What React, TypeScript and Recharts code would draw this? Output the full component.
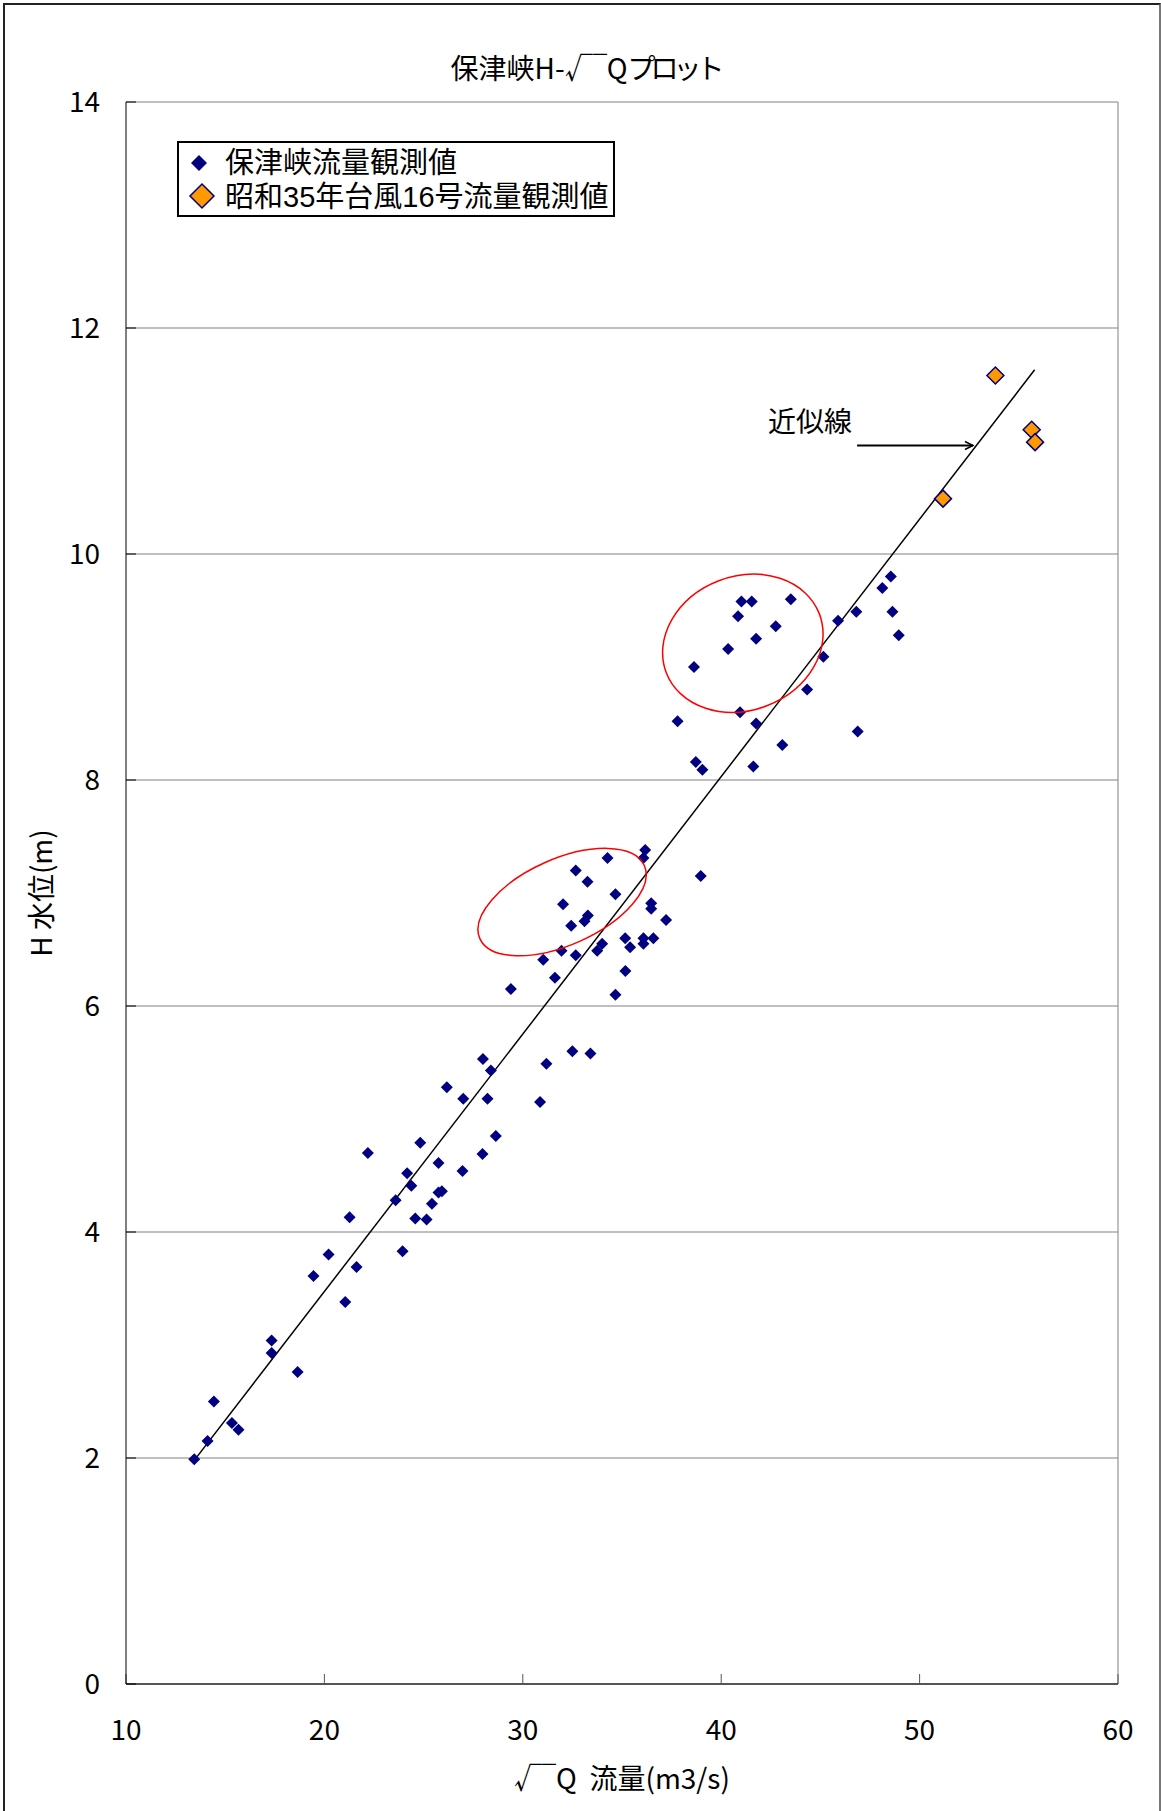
import React from 'react';
import {
  ScatterChart, Scatter, XAxis, YAxis, CartesianGrid, Legend, ReferenceLine, ReferenceDot, Label,
} from 'recharts';

const FONT = "'Noto Sans CJK JP', 'Noto Sans', sans-serif";
const LEGEND_FONT = "'Liberation Sans', 'Noto Sans CJK JP', sans-serif";

const seriesNames = ['保津峡流量観測値', '昭和35年台風16号流量観測値'];

// 保津峡 observed: √Q and H (m)
const hozuSqrtQ = [
  13.44, 14.11, 14.43, 15.34, 15.67, 17.34, 17.34, 18.65, 19.45, 20.21,
  21.05, 21.27, 21.62, 22.19, 23.59, 23.94, 24.17, 24.38, 24.58, 24.83,
  25.15, 25.42, 25.75, 25.75, 25.92, 26.17, 26.96, 27.0, 27.97, 27.99,
  28.22, 28.39, 28.64, 29.4, 30.87, 31.03, 31.19, 31.62, 31.95, 32.03,
  32.44, 32.5, 32.67, 32.67, 33.11, 33.26, 33.28, 33.41, 33.75, 34.0,
  34.27, 34.67, 34.67, 35.16, 35.17, 35.41, 36.08, 36.08, 36.17, 36.08,
  36.47, 36.47, 36.58, 37.22, 37.8, 38.63, 38.72, 39.05, 38.97, 40.35,
  40.85, 41.02, 41.54, 40.95, 41.62, 41.76, 41.76, 42.75, 43.08, 43.51,
  44.33, 45.15, 45.89, 46.81, 46.88, 48.12, 48.55, 48.63, 48.95,
];
const hozuLevel = [
  1.99, 2.15, 2.5, 2.31, 2.25, 3.04, 2.93, 2.76, 3.61, 3.8,
  3.38, 4.13, 3.69, 4.7, 4.28, 3.83, 4.52, 4.41, 4.12, 4.79,
  4.11, 4.25, 4.61, 4.35, 4.36, 5.28, 4.54, 5.18, 4.69, 5.53,
  5.18, 5.43, 4.85, 6.15, 5.15, 6.41, 5.49, 6.25, 6.49, 6.9,
  6.71, 5.6, 6.45, 7.2, 6.75, 7.1, 6.8, 5.58, 6.49, 6.55,
  7.31, 6.99, 6.1, 6.6, 6.31, 6.52, 6.6, 6.55, 7.38, 7.31,
  6.91, 6.86, 6.6, 6.76, 8.52, 9.0, 8.16, 8.09, 7.15, 9.16,
  9.45, 9.58, 9.58, 8.6, 8.12, 9.25, 8.5, 9.36, 8.31, 9.6,
  8.8, 9.09, 9.41, 9.49, 8.43, 9.7, 9.8, 9.49, 9.28,
];

// 昭和35年台風16号
const typhoonSqrtQ = [51.18, 53.82, 55.65, 55.82];
const typhoonLevel = [10.49, 11.58, 11.1, 10.99];

const xTicks = [10, 20, 30, 40, 50, 60];
const yTicks = [0, 2, 4, 6, 8, 10, 12, 14];

// approximation line end points
const fitLine = [{ x: 13.4, y: 1.97 }, { x: 55.8, y: 11.63 }];
// arrow pointing at the line, and its label
const arrowLine = [{ x: 46.85, y: 10.96 }, { x: 52.69, y: 10.96 }];
const fitLabel = { x: 44.48, y: 11.19 };
// centers of the red circled groups
const circleCenters = [{ x: 31.98, y: 6.92 }, { x: 41.09, y: 9.21 }];
const circleShapes = [
  { rx: 90, ry: 43, angle: -24 },
  { rx: 82, ry: 67, angle: -21 },
];

const hozuData = hozuSqrtQ.map((x, i) => ({ x, y: hozuLevel[i] }));
const typhoonData = typhoonSqrtQ.map((x, i) => ({ x, y: typhoonLevel[i] }));

const diamond = (cx: number, cy: number, r: number) =>
  `${cx},${cy - r} ${cx + r},${cy} ${cx},${cy + r} ${cx - r},${cy}`;

const NavyDiamond = (p: any) => <polygon points={diamond(p.cx, p.cy, 6)} fill="#000080" />;
const OrangeDiamond = (p: any) => (
  <polygon points={diamond(p.cx, p.cy, 8.5)} fill="#FF9900" stroke="#000080" strokeWidth={1.5} />
);

// √ followed by a short overbar
const Radical = () => (
  <>
    √<span style={{ display: 'inline-block', transform: 'scaleX(0.5)', transformOrigin: 'left center', marginRight: -14 }}>￣</span>
  </>
);

function LegendBox({ payload }: any) {
  const names = payload && payload.length === 2 ? payload.map((e: any) => e.value) : seriesNames;
  const row = { position: 'absolute' as const, left: 46, height: 34, lineHeight: '34px', whiteSpace: 'nowrap' as const };
  return (
    <div style={{
      position: 'relative', width: 438, height: 76, border: '2px solid #000', boxSizing: 'border-box',
      background: '#fff', fontFamily: LEGEND_FONT, fontSize: 29, color: '#000',
    }}>
      <svg width={60} height={72} style={{ position: 'absolute', left: 0, top: 0 }}>
        <polygon points={diamond(20, 20, 8)} fill="#000080" />
        <polygon points={diamond(23, 53, 12)} fill="#FF9900" stroke="#000080" strokeWidth={1.5} />
      </svg>
      <div style={{ ...row, top: 3 }}>{names[0]}</div>
      <div style={{ ...row, top: 37 }}>{names[1]}</div>
    </div>
  );
}

const YTitle = (props: any) => {
  const vb = props.viewBox || {};
  const cx = vb.x + 40;
  const cy = vb.y + vb.height / 2;
  return (
    <text x={cx} y={cy} transform={`rotate(-90 ${cx} ${cy})`} textAnchor="middle" dominantBaseline="central"
      fontSize={28} fontFamily={FONT} fill="#000">
      H 水位(m)
    </text>
  );
};

const ArrowShape = (p: any) => (
  <g>
    <line x1={p.x1} y1={p.y1} x2={p.x2} y2={p.y2} stroke="#000" strokeWidth={2} />
    <path d={`M${p.x2 - 8},${p.y2 - 4} L${p.x2},${p.y2} L${p.x2 - 8},${p.y2 + 4}`} fill="none" stroke="#000" strokeWidth={1.5} />
  </g>
);

const FitText = (p: any) => (
  <text x={p.cx} y={p.cy} textAnchor="middle" dominantBaseline="central" fontSize={28} fontFamily={FONT} fill="#000">
    近似線
  </text>
);

const makeEllipse = (i: number) => (p: any) => {
  const s = circleShapes[i];
  return (
    <ellipse cx={p.cx} cy={p.cy} rx={s.rx} ry={s.ry} transform={`rotate(${s.angle} ${p.cx} ${p.cy})`}
      fill="none" stroke="#FF0000" strokeWidth={1.5} />
  );
};

const tickStyle = { fontSize: 28, fill: '#000', fontFamily: FONT };

export default function App() {
  return (
    <div style={{ position: 'absolute', left: 0, top: 0, width: 1161, height: 1811, background: '#fff', fontFamily: FONT }}>
      <div style={{
        position: 'absolute', left: 3, top: 3, width: 1158, height: 1808, boxSizing: 'border-box',
        borderTop: '2px solid #222', borderLeft: '2px solid #222', borderRight: '2px solid #777',
      }} />
      <div style={{
        position: 'absolute', left: 0, top: 50, width: 1170, textAlign: 'center',
        fontSize: 28, lineHeight: '34px', color: '#000', zIndex: 2,
      }}>
        保津峡H-<Radical />Q<span style={{ letterSpacing: -5 }}>プロット</span>
      </div>
      <div style={{ position: 'absolute', left: 0, top: 0 }}>
        <ScatterChart width={1161} height={1811} margin={{ top: 102, right: 43, bottom: 0, left: 0 }}>
          <CartesianGrid horizontal vertical={false} stroke="#808080" />
          <XAxis
            type="number" dataKey="x" domain={[10, 60]} ticks={xTicks} interval={0} allowDataOverflow
            height={127} tickSize={-10} tickMargin={46}
            axisLine={{ stroke: '#555', strokeWidth: 2 }} tickLine={{ stroke: '#555' }} tick={tickStyle}
          />
          <YAxis
            type="number" dataKey="y" domain={[0, 14]} ticks={yTicks} interval={0} allowDataOverflow
            width={126} tickSize={-10} tickMargin={36}
            axisLine={{ stroke: '#000' }} tickLine={{ stroke: '#000' }} tick={tickStyle}
            label={<Label content={YTitle} />}
          />
          <ReferenceLine x={60} stroke="#808080" />
          <Legend
            layout="vertical" align="center" verticalAlign="middle"
            wrapperStyle={{ left: 177, top: 141, width: 438, height: 76 }}
            content={(props: any) => <LegendBox payload={props.payload} />}
          />
          <ReferenceLine segment={fitLine} stroke="#000" strokeWidth={1.5} />
          <Scatter name={seriesNames[0]} data={hozuData} shape={NavyDiamond} isAnimationActive={false} />
          <Scatter name={seriesNames[1]} data={typhoonData} shape={OrangeDiamond} isAnimationActive={false} />
          <ReferenceLine segment={arrowLine} shape={ArrowShape} />
          <ReferenceDot x={fitLabel.x} y={fitLabel.y} r={0} shape={FitText} />
          {circleCenters.map((c, i) => (
            <ReferenceDot key={i} x={c.x} y={c.y} r={0} shape={makeEllipse(i)} />
          ))}
        </ScatterChart>
      </div>
      <div style={{
        position: 'absolute', left: 322, top: 1760, width: 600, textAlign: 'center',
        fontSize: 28, lineHeight: '34px', color: '#000', whiteSpace: 'pre',
      }}>
        <Radical />Q  流量(m3/s)
      </div>
    </div>
  );
}
